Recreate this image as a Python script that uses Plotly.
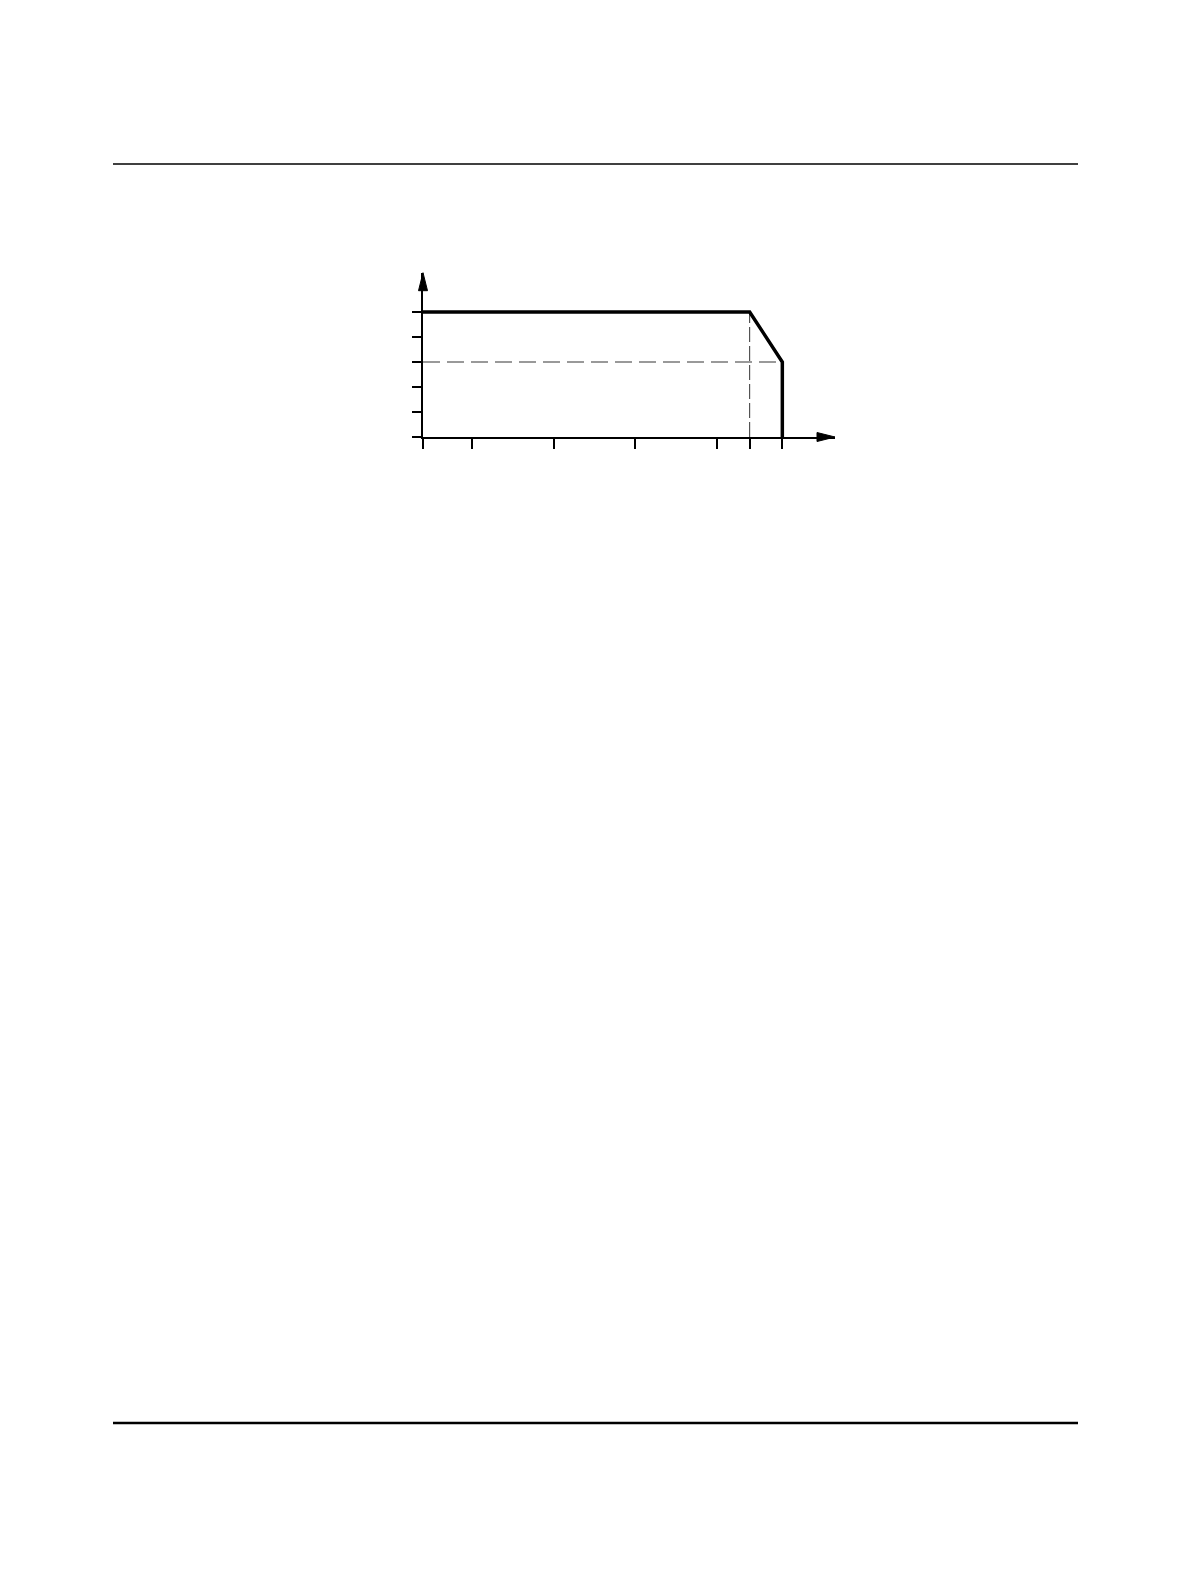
import plotly.graph_objects as go

# Derating curve (no labels in the original)
x_ticks = [0, 12, 32, 52, 72, 80, 88]
y_ticks = [0, 1, 2, 3, 4, 5]
curve_x = [0, 80, 88, 88]
curve_y = [5, 5, 3, 0]
rated_level = 5
derated_level = 3
knee_x = 80
cutoff_x = 88
x_axis_end = 100.9
y_axis_end = 6.57

# page is 1190x1582, body has the browser's default 8px margin
OFF = 8
W, H = 1190 - 2 * OFF, 1582 - 2 * OFF - 6


def px_x(p):
    return (p - OFF) / W


def px_y(p):
    return 1 - (p - OFF) / H


fig = go.Figure()

# horizontal dashed reference at derated level
fig.add_trace(go.Scatter(
    x=[0, cutoff_x], y=[derated_level, derated_level], mode='lines',
    line=dict(color='#999999', width=2, dash='17px,7px'),
    cliponaxis=False, hoverinfo='skip'
))
# vertical dashed line at the knee
fig.add_trace(go.Scatter(
    x=[knee_x, knee_x], y=[0, rated_level], mode='lines',
    line=dict(color='#333333', width=1, dash='15px,4px'),
    cliponaxis=False, hoverinfo='skip'
))
# main curve
fig.add_trace(go.Scatter(
    x=curve_x, y=curve_y, mode='lines',
    line=dict(color='black', width=3.5),
    cliponaxis=False, hoverinfo='skip'
))

axis_common = dict(
    showgrid=False, zeroline=False, showline=True, linecolor='black',
    linewidth=1.5, ticks='outside', tickcolor='black', tickwidth=1.5,
    showticklabels=False, fixedrange=True
)

x_domain = [px_x(423), px_x(835)]
y_domain = [px_y(437), px_y(272.7)]

fig.update_xaxes(range=[0, x_axis_end], domain=x_domain,
                 tickvals=x_ticks, ticklen=10, **axis_common)
fig.update_yaxes(range=[0, y_axis_end], domain=y_domain,
                 tickvals=y_ticks, ticklen=9, **axis_common)

shapes = [
    # page rules
    dict(type='line', xref='paper', yref='paper', x0=px_x(113), x1=px_x(1078),
         y0=px_y(164), y1=px_y(164), line=dict(color='black', width=1.5)),
    dict(type='line', xref='paper', yref='paper', x0=px_x(113), x1=px_x(1078),
         y0=px_y(1423), y1=px_y(1423), line=dict(color='black', width=2.5)),
    # arrowheads at the ends of the axes (paper refs so they are not clipped)
    dict(type='path', xref='paper', yref='paper', xsizemode='pixel', ysizemode='pixel',
         xanchor=x_domain[1], yanchor=y_domain[0], path='M0,0 L-18,4.5 L-18,-4.5 Z',
         fillcolor='black', line=dict(color='black', width=1)),
    dict(type='path', xref='paper', yref='paper', xsizemode='pixel', ysizemode='pixel',
         xanchor=x_domain[0], yanchor=y_domain[1], path='M0,0 L-4.5,-18 L4.5,-18 Z',
         fillcolor='black', line=dict(color='black', width=1)),
]

fig.update_layout(
    width=W, height=H,
    margin=dict(l=0, r=0, t=0, b=0),
    paper_bgcolor='white', plot_bgcolor='white',
    showlegend=False, shapes=shapes
)

fig.write_html("out.html")
